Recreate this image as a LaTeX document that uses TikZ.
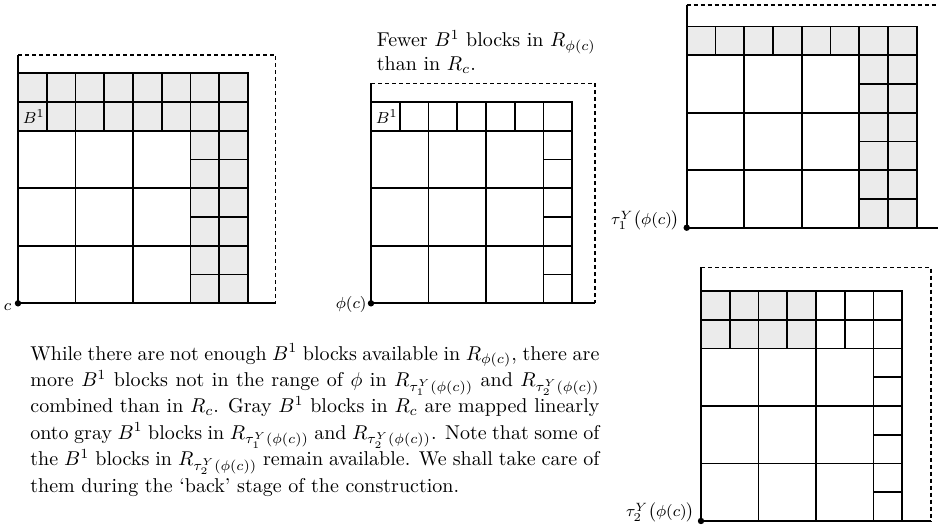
\documentclass[tikz,border=0pt]{standalone}
\usepackage{amsmath}
\begin{document}
\begin{tikzpicture}[x=0.5pt,y=-0.5pt,
  cell/.style={line width=0.85pt},
  graycell/.style={cell, fill=black!8},
  axis/.style={line width=0.85pt},
  dashline/.style={line width=0.85pt, dash pattern=on 2pt off 1.5pt},
  origindot/.style={circle, fill=black, inner sep=0pt, minimum size=3.2pt},
  txt/.style={inner sep=0pt, font=\fontsize{10}{13.2}\selectfont},
  small/.style={inner sep=0pt, font=\fontsize{8.5}{10}\selectfont},
  lbl/.style={small, anchor=base east}]
\useasboundingbox (0,0) rectangle (938,530);

% ---------- diagram 1 : R_c ----------
\begin{scope}[shift={(18,303.3)}, x=14.375pt, y=14.375pt]
  \foreach \i in {0,...,7} \foreach \j in {6,7} \draw[graycell] (\i,\j) rectangle ++(1,1);
  \foreach \i in {0,2,4} \foreach \j in {0,2,4} \draw[cell] (\i,\j) rectangle ++(2,2);
  \foreach \i in {6,7} \foreach \j in {0,...,5} \draw[graycell] (\i,\j) rectangle ++(1,1);
  \coordinate (t1) at (0,8.64);
  \coordinate (c1) at (8.96,8.64);
  \coordinate (r1) at (8.96,0);
  \node[origindot] (o1) at (0,0) {};
  \draw[axis] (t1) -- (o1.center) -- (r1);
  \draw[dashline] (t1) -- (c1) -- (r1);
  \node[lbl] (l1) at (-0.22,-0.24) {$c$};
  \node[small] (b1) at (0.55,6.5) {$B^1$};
\end{scope}

% ---------- diagram 2 : R_phi(c) ----------
\begin{scope}[shift={(371,303.3)}, x=14.375pt, y=14.375pt]
  \foreach \i in {0,...,6} \draw[cell] (\i,6) rectangle ++(1,1);
  \foreach \i in {0,2,4} \foreach \j in {0,2,4} \draw[cell] (\i,\j) rectangle ++(2,2);
  \foreach \j in {0,...,5} \draw[cell] (6,\j) rectangle ++(1,1);
  \coordinate (t2) at (0,7.65);
  \coordinate (c2) at (7.79,7.65);
  \coordinate (r2) at (7.79,0);
  \node[origindot] (o2) at (0,0) {};
  \draw[axis] (t2) -- (o2.center) -- (r2);
  \draw[dashline] (t2) -- (c2) -- (r2);
  \node[lbl] (l2) at (-0.14,-0.18) {$\phi(c)$};
  \node[small] (b2) at (0.55,6.5) {$B^1$};
\end{scope}

% ---------- diagram 3 : R_tau1 ----------
\begin{scope}[shift={(686.7,227.7)}, x=14.375pt, y=14.375pt]
  \foreach \i in {0,...,7} \draw[graycell] (\i,6) rectangle ++(1,1);
  \foreach \i in {0,2,4} \foreach \j in {0,2,4} \draw[cell] (\i,\j) rectangle ++(2,2);
  \foreach \i in {6,7} \foreach \j in {0,...,5} \draw[graycell] (\i,\j) rectangle ++(1,1);
  \coordinate (t3) at (0,7.75);
  \coordinate (c3) at (8.8,7.75);
  \coordinate (r3) at (8.8,0);
  \node[origindot] (o3) at (0,0) {};
  \draw[axis] (t3) -- (o3.center) -- (r3);
  \draw[dashline] (t3) -- (c3);
  \node[lbl] (l3) at (-0.23,0.1) {$\tau_1^Y\bigl(\phi(c)\bigr)$};
\end{scope}

% ---------- diagram 4 : R_tau2 ----------
\begin{scope}[shift={(701,521)}, x=14.375pt, y=14.375pt]
  \foreach \i in {0,...,3} \foreach \j in {6,7} \draw[graycell] (\i,\j) rectangle ++(1,1);
  \foreach \i in {4,5,6} \foreach \j in {6,7} \draw[cell] (\i,\j) rectangle ++(1,1);
  \foreach \i in {0,2,4} \foreach \j in {0,2,4} \draw[cell] (\i,\j) rectangle ++(2,2);
  \foreach \j in {0,...,5} \draw[cell] (6,\j) rectangle ++(1,1);
  \coordinate (t4) at (0,8.82);
  \coordinate (c4) at (7.99,8.82);
  \coordinate (r4) at (7.99,0);
  \node[origindot] (o4) at (0,0) {};
  \draw[axis] (t4) -- (o4.center) -- (r4);
  \draw[dashline] (t4) -- (c4) -- (r4);
  \node[lbl] (l4) at (-0.21,0.15) {$\tau_2^Y\bigl(\phi(c)\bigr)$};
\end{scope}

% ---------- caption over diagram 2 ----------
\node[txt, anchor=base west] (h1) at (376.5,46.5) {Fewer $B^1$ blocks in $R_{\phi(c)}$};
\node[txt, anchor=base west] (h2) at (376.5,70) {than in $R_c$.};

% ---------- paragraph ----------
\node[txt, anchor=base west] (p1) at (30,360) {\makebox[284.5pt][s]{While there are not enough $B^1$ blocks available in $R_{\phi(c)}$, there are}};
\node[txt, anchor=base west] (p2) at (30,386.4) {\makebox[284.5pt][s]{more $B^1$ blocks not in the range of $\phi$ in $R_{\tau_1^Y\left(\phi(c)\right)}$ and $R_{\tau_2^Y\left(\phi(c)\right)}$}};
\node[txt, anchor=base west] (p3) at (30,412.8) {\makebox[284.5pt][s]{combined than in $R_c$. Gray $B^1$ blocks in $R_c$ are mapped linearly}};
\node[txt, anchor=base west] (p4) at (30,439.2) {\makebox[284.5pt][s]{onto gray $B^1$ blocks in $R_{\tau_1^Y\left(\phi(c)\right)}$ and $R_{\tau_2^Y\left(\phi(c)\right)}$. Note that some of}};
\node[txt, anchor=base west] (p5) at (30,465.6) {\makebox[284.5pt][s]{the $B^1$ blocks in $R_{\tau_2^Y\left(\phi(c)\right)}$ remain available. We shall take care of}};
\node[txt, anchor=base west] (p6) at (30,492) {them during the `back' stage of the construction.};
\end{tikzpicture}
\end{document}
